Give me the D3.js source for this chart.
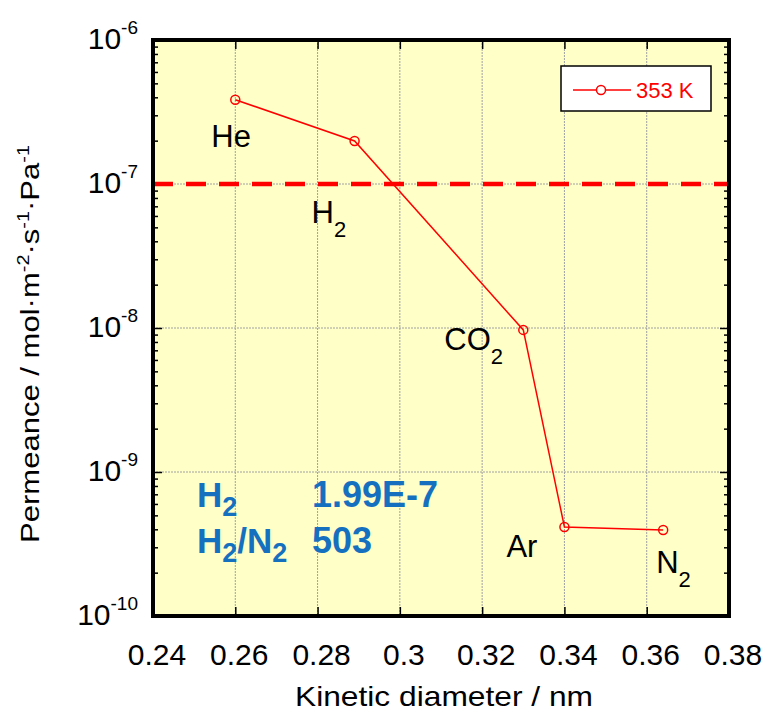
<!DOCTYPE html>
<html>
<head>
<meta charset="utf-8">
<script src="https://cdn.jsdelivr.net/npm/d3@7"></script>
<style>
  body { margin: 0; background: #fff; }
  svg { font-family: "Liberation Sans", Arial, sans-serif; }
</style>
</head>
<body>
<div id="chart"></div>
<script>
// gases and their kinetic diameter (nm) / permeance at 353 K
var gases = ["He", "H2", "CO2", "Ar", "N2"];
var diameter = [0.26, 0.289, 0.33, 0.34, 0.364];
var permeance = [3.85e-7, 1.99e-7, 9.7e-9, 4.15e-10, 3.96e-10];

var xTicks = [0.24, 0.26, 0.28, 0.30, 0.32, 0.34, 0.36, 0.38];
var xTickLabels = ["0.24", "0.26", "0.28", "0.3", "0.32", "0.34", "0.36", "0.38"];
var yDecades = [-10, -9, -8, -7, -6];
var targetLine = 1e-7;
var seriesName = "353 K";
var infoRows = [["H", "2", "", "", "1.99E-7"], ["H", "2", "/N", "2", "503"]];

// label placement for each gas (offset from point, px)
var gasLabelOffset = [[-24, 47], [-43, 82], [-79, 20], [-58, 30], [-7, 43]];

var W = 770, H = 713;
var plot = {left: 153, right: 729, top: 40, bottom: 616};

var svg = d3.select("#chart").append("svg")
    .attr("width", W)
    .attr("height", H);

var x = d3.scaleLinear()
    .domain([0.24, 0.38])
    .range([plot.left, plot.right]);

var y = d3.scaleLog()
    .domain([1e-10, 1e-6])
    .range([plot.bottom, plot.top]);

// background
svg.append("rect")
    .attr("x", plot.left).attr("y", plot.top)
    .attr("width", plot.right - plot.left)
    .attr("height", plot.bottom - plot.top)
    .style("fill", "#ffffc8");

// grid
var grid = svg.append("g");
grid.selectAll(".vg")
  .data(xTicks.slice(1, -1))
  .enter().append("line")
    .attr("x1", function(d) { return x(d); })
    .attr("x2", function(d) { return x(d); })
    .attr("y1", plot.top).attr("y2", plot.bottom)
    .style("stroke", "#a0a0a0").style("stroke-width", 1)
    .style("stroke-dasharray", "2,1");
grid.selectAll(".hg")
  .data(yDecades.slice(1, -1))
  .enter().append("line")
    .attr("y1", function(d) { return y(Math.pow(10, d)); })
    .attr("y2", function(d) { return y(Math.pow(10, d)); })
    .attr("x1", plot.left).attr("x2", plot.right)
    .style("stroke", "#a0a0a0").style("stroke-width", 1)
    .style("stroke-dasharray", "2,1");

// minor + major ticks (inside)
var minorVals = [];
yDecades.slice(0, -1).forEach(function(e) {
  for (var k = 2; k <= 9; k++) minorVals.push(k * Math.pow(10, e));
});
var yMajorVals = yDecades.map(function(e) { return Math.pow(10, e); });

var axL = d3.axisRight(y).tickValues(minorVals).tickSize(5).tickFormat("");
var axL2 = d3.axisRight(y).tickValues(yMajorVals).tickSize(9).tickFormat("");
var axR = d3.axisLeft(y).tickValues(minorVals).tickSize(5).tickFormat("");
var axR2 = d3.axisLeft(y).tickValues(yMajorVals).tickSize(9).tickFormat("");
var axB = d3.axisTop(x).tickValues(xTicks).tickSize(9).tickFormat("");
var axT = d3.axisBottom(x).tickValues(xTicks).tickSize(9).tickFormat("");

[[axL, "translate(" + plot.left + ",0)"], [axL2, "translate(" + plot.left + ",0)"],
 [axR, "translate(" + plot.right + ",0)"], [axR2, "translate(" + plot.right + ",0)"],
 [axB, "translate(0," + plot.bottom + ")"], [axT, "translate(0," + plot.top + ")"]]
.forEach(function(a) {
  var g = svg.append("g").attr("transform", a[1]).call(a[0]);
  g.select(".domain").remove();
  g.selectAll("line").style("stroke", "#000").style("stroke-width", 1.5);
});

// red dashed reference line
svg.append("line")
    .attr("x1", plot.left).attr("x2", plot.right)
    .attr("y1", y(targetLine)).attr("y2", y(targetLine))
    .style("stroke", "#ff0000").style("stroke-width", 4.5)
    .style("stroke-dasharray", "20,13");

// data line
var pts = diameter.map(function(d, i) { return [d, permeance[i]]; });
svg.append("path")
    .datum(pts)
    .attr("d", d3.line().x(function(d) { return x(d[0]); }).y(function(d) { return y(d[1]); }))
    .style("fill", "none").style("stroke", "#ff0000").style("stroke-width", 1.5);

svg.append("g").selectAll("circle")
  .data(pts)
  .enter().append("circle")
    .attr("cx", function(d) { return x(d[0]); })
    .attr("cy", function(d) { return y(d[1]); })
    .attr("r", 4.5)
    .style("fill", "none").style("stroke", "#ff0000").style("stroke-width", 1.5);

// gas labels
gases.forEach(function(g, i) {
  var m = g.match(/^([A-Za-z]+?)(\d?)$/);
  var t = svg.append("text")
      .attr("x", x(diameter[i]) + gasLabelOffset[i][0])
      .attr("y", y(permeance[i]) + gasLabelOffset[i][1])
      .style("font-size", "31px").style("fill", "#000");
  t.append("tspan").text(m[1]);
  if (m[2]) t.append("tspan").attr("dy", 14).style("font-size", "22px").text(m[2]);
});

// frame
svg.append("rect")
    .attr("x", plot.left).attr("y", plot.top)
    .attr("width", plot.right - plot.left)
    .attr("height", plot.bottom - plot.top)
    .style("fill", "none").style("stroke", "#000").style("stroke-width", 4);

// x tick labels
svg.append("g").selectAll("text")
  .data(xTicks)
  .enter().append("text")
    .attr("x", function(d) { return x(d) + 4; })
    .attr("y", 665)
    .attr("text-anchor", "middle")
    .style("font-size", "30px")
    .text(function(d, i) { return xTickLabels[i]; });

// y tick labels 10^n
yDecades.forEach(function(e) {
  var t = svg.append("text")
      .attr("x", 138)
      .attr("y", y(Math.pow(10, e)) + 9)
      .attr("text-anchor", "end")
      .style("font-size", "30px");
  t.append("tspan").text("10");
  t.append("tspan").attr("dy", -15).style("font-size", "19px").text(String(e));
});

// axis titles
svg.append("text")
    .attr("x", 444)
    .attr("y", 706)
    .attr("text-anchor", "middle")
    .attr("textLength", 298)
    .attr("lengthAdjust", "spacingAndGlyphs")
    .style("font-size", "28px")
    .text("Kinetic diameter / nm");

var yt = svg.append("text")
    .attr("transform", "translate(39," + 344 + ") rotate(-90)")
    .attr("text-anchor", "middle")
    .attr("textLength", 398)
    .attr("lengthAdjust", "spacingAndGlyphs")
    .style("font-size", "25px");
yt.append("tspan").text("Permeance / mol\u00b7m");
yt.append("tspan").attr("dy", -10).style("font-size", "16px").text("-2");
yt.append("tspan").attr("dy", 10).text("\u00b7s");
yt.append("tspan").attr("dy", -10).style("font-size", "16px").text("-1");
yt.append("tspan").attr("dy", 10).text("\u00b7Pa");
yt.append("tspan").attr("dy", -10).style("font-size", "16px").text("-1");

// legend
var lg = svg.append("g");
lg.append("rect")
    .attr("x", 561).attr("y", 66).attr("width", 150).attr("height", 45)
    .style("fill", "#fff").style("stroke", "#000").style("stroke-width", 1.5);
lg.append("line")
    .attr("x1", 573).attr("x2", 631).attr("y1", 90).attr("y2", 90)
    .style("stroke", "#ff0000").style("stroke-width", 1.5);
lg.append("circle")
    .attr("cx", 601).attr("cy", 90).attr("r", 4.5)
    .style("fill", "#fff").style("stroke", "#ff0000").style("stroke-width", 1.5);
lg.append("text")
    .attr("x", 636).attr("y", 98)
    .style("font-size", "22px").style("fill", "#ff0000")
    .text(seriesName);

// blue info text
infoRows.forEach(function(r, i) {
  var by = 507 + i * 46;
  var t = svg.append("text")
      .attr("x", 197).attr("y", by)
      .style("font-size", "35px").style("font-weight", "bold").style("fill", "#1570c0");
  t.append("tspan").text(r[0]);
  t.append("tspan").attr("dy", 9).style("font-size", "27px").text(r[1]);
  if (r[2]) {
    t.append("tspan").attr("dy", -9).text(r[2]);
    t.append("tspan").attr("dy", 9).style("font-size", "27px").text(r[3]);
  }
  svg.append("text")
      .attr("x", 312).attr("y", by)
      .style("font-size", "36px").style("font-weight", "bold").style("fill", "#1570c0")
      .text(r[4]);
});
</script>
</body>
</html>
